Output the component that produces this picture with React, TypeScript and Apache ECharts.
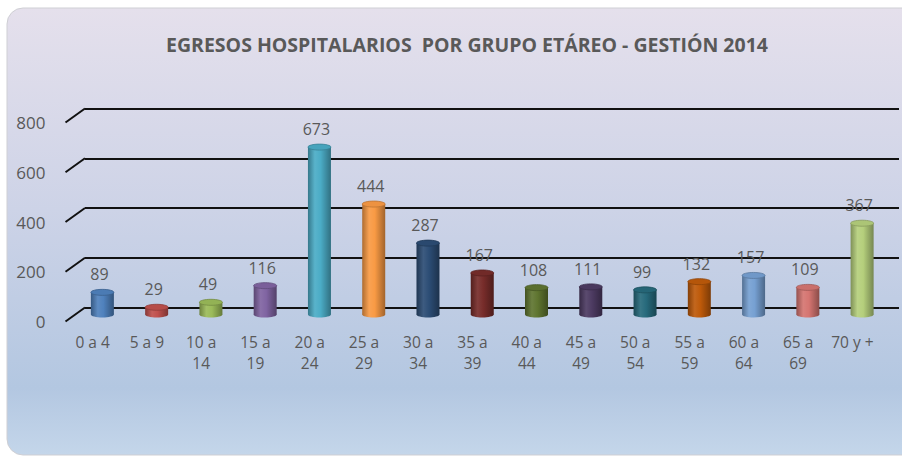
import React, { useEffect, useRef } from "react";
import * as echarts from "echarts";

const titleText = "EGRESOS HOSPITALARIOS  POR GRUPO ETÁREO - GESTIÓN 2014";
const categories = [
  "0 a 4", "5 a 9", "10 a\n14", "15 a\n19", "20 a\n24", "25 a\n29", "30 a\n34",
  "35 a\n39", "40 a\n44", "45 a\n49", "50 a\n54", "55 a\n59", "60 a\n64", "65 a\n69", "70 y +",
];
const values = [89, 29, 49, 116, 673, 444, 287, 167, 108, 111, 99, 132, 157, 109, 367];
const barColors = [
  "#4F81BD", "#C0504D", "#9BBB59", "#8064A2", "#4BACC6", "#F99A44", "#2C4D75",
  "#772C2A", "#5F7530", "#4D3B62", "#276A7C", "#BE5A0A", "#76A0D2", "#D57571", "#B5CF7C",
];
const yTicks = [0, 200, 400, 600, 800];

const DEPTH_X = 19.5;
const DEPTH_Y = -14;
const FONT = "'Open Sans', 'Noto Sans', sans-serif";

function shade(hex: string, f: number): string {
  const n = parseInt(hex.slice(1), 16);
  let r = (n >> 16) & 255, g = (n >> 8) & 255, b = n & 255;
  if (f < 0) {
    r = Math.round(r * (1 + f)); g = Math.round(g * (1 + f)); b = Math.round(b * (1 + f));
  } else {
    r = Math.round(r + (255 - r) * f); g = Math.round(g + (255 - g) * f); b = Math.round(b + (255 - b) * f);
  }
  return `rgb(${r},${g},${b})`;
}

export default function App() {
  const ref = useRef<HTMLDivElement>(null);
  useEffect(() => {
    if (!ref.current) return;
    const chart = echarts.init(ref.current, null, { renderer: "svg" });
    const option: any = {
      animation: false,
      backgroundColor: "#ffffff",
      title: {
        text: titleText,
        left: 462,
        textAlign: "center",
        top: 29,
        textStyle: { fontFamily: FONT, fontSize: 19.5, fontWeight: "bold", color: "#595959" },
      },
      graphic: [
        {
          type: "rect",
          z: -10,
          shape: { x: 7, y: 8, width: 920, height: 447, r: 16 },
          style: {
            stroke: "#cfcfd4",
            lineWidth: 1,
            fill: {
              type: "linear", x: 0, y: 0, x2: 0, y2: 1,
              colorStops: [
                { offset: 0, color: "#E5E0EC" },
                { offset: 0.45, color: "#CDD3E7" },
                { offset: 0.85, color: "#B3C7E1" },
                { offset: 1, color: "#C4D6EA" },
              ],
            },
          },
        },
      ],
      grid: [
        { left: 85, right: 3, top: 108.5, height: 199 },
        { left: 65.5, right: 22.5, top: 122.5, height: 199 },
      ],
      xAxis: [
        { type: "category", gridIndex: 0, data: categories, show: false },
        {
          type: "category", gridIndex: 1, data: categories,
          axisLine: { show: false }, axisTick: { show: false },
          axisLabel: {
            interval: 0, margin: 10, color: "#595959", fontSize: 15.5, lineHeight: 21, fontFamily: FONT,
          },
        },
      ],
      yAxis: [
        {
          type: "value", gridIndex: 0, min: 0, max: 800, interval: 200,
          axisLine: { show: false }, axisTick: { show: false }, axisLabel: { show: false },
          splitLine: { lineStyle: { color: "#111111", width: 2 } },
        },
        {
          type: "value", gridIndex: 1, min: 0, max: 800, interval: 200,
          axisLine: { show: false }, axisTick: { show: false }, splitLine: { show: false },
          axisLabel: { margin: 20, color: "#595959", fontSize: 17, fontFamily: FONT },
        },
      ],
      series: [
        {
          type: "custom",
          xAxisIndex: 1, yAxisIndex: 1,
          clip: false,
          data: yTicks.map((v) => [0, v]),
          renderItem: (params: any, api: any) => {
            const p = api.coord([0, api.value(1)]);
            const x0 = params.coordSys.x;
            return {
              type: "line",
              shape: { x1: x0, y1: p[1], x2: x0 + DEPTH_X, y2: p[1] + DEPTH_Y },
              style: { stroke: "#111111", lineWidth: 2 },
            };
          },
        },
        {
          type: "custom",
          xAxisIndex: 1, yAxisIndex: 1,
          clip: false,
          z: 5,
          data: values.map((v, i) => [i, v]),
          renderItem: (params: any, api: any) => {
            const i = api.value(0);
            const v = api.value(1);
            const top = api.coord([i, v]);
            const base = api.coord([i, 0]);
            const cx = top[0] + DEPTH_X / 2;
            const ty = top[1] + DEPTH_Y / 2;
            const by = base[1] + DEPTH_Y / 2;
            const w = 23;
            const rx = w / 2;
            const ry = 3;
            const c = barColors[params.dataIndex];
            const bodyFill = {
              type: "linear", x: 0, y: 0, x2: 1, y2: 0,
              colorStops: [
                { offset: 0, color: shade(c, -0.3) },
                { offset: 0.3, color: shade(c, 0.08) },
                { offset: 0.55, color: c },
                { offset: 1, color: shade(c, -0.35) },
              ],
            };
            return {
              type: "group",
              children: [
                {
                  type: "ellipse",
                  shape: { cx, cy: by, rx, ry },
                  style: { fill: bodyFill },
                },
                {
                  type: "rect",
                  shape: { x: cx - rx, y: ty, width: w, height: Math.max(by - ty, 0) },
                  style: { fill: bodyFill },
                },
                {
                  type: "ellipse",
                  shape: { cx, cy: ty, rx, ry },
                  style: { fill: shade(c, -0.05), stroke: shade(c, -0.25), lineWidth: 0.8 },
                },
                {
                  type: "text",
                  style: {
                    text: String(v),
                    x: cx - 3,
                    y: ty - 18,
                    align: "center",
                    verticalAlign: "middle",
                    fill: "#595959",
                    fontSize: 16,
                    fontFamily: FONT,
                  },
                },
              ],
            };
          },
        },
      ],
    };
    chart.setOption(option);
    return () => chart.dispose();
  }, []);
  return (
    <div
      ref={ref}
      style={{ position: "fixed", left: 0, top: 0, width: 902, height: 457 }}
    />
  );
}
